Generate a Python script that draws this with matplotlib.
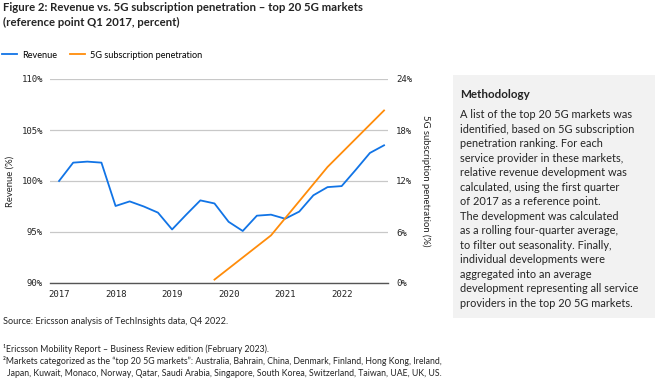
import matplotlib.pyplot as plt
import numpy as np

# quarterly revenue index (Q1 2017 = 100)
quarters = np.arange(2017, 2023, 0.25)
revenue = [100.0, 101.8, 101.9, 101.8,
           97.55, 98.0, 97.5, 96.9,
           95.25, 96.7, 98.1, 97.8,
           96.0, 95.1, 96.6, 96.7,
           96.3, 97.0, 98.6, 99.4,
           99.5, 101.1, 102.75, 103.5]

# 5G subscription penetration, end of year points
pen_x = [2019.75, 2020.75, 2021.75, 2022.75]
penetration = [0.4, 5.6, 13.65, 20.3]

years = [2017, 2018, 2019, 2020, 2021, 2022]
rev_ticks = [90, 95, 100, 105, 110]
pen_ticks = [0, 6, 12, 18, 24]

BLUE = "#1174e6"
ORANGE = "#ff8c0a"
TXT = "#242424"
MONO = "DejaVu Sans Mono"
SANS = ["Lato", "DejaVu Sans"]

plt.rcParams["font.family"] = SANS

fig = plt.figure(figsize=(6.63, 3.9), dpi=100)
fig.patch.set_facecolor("white")

W, H = 663, 390
ax = fig.add_axes([50 / W, 1 - 283 / H, 338 / W, 204 / H])
ax2 = ax.twinx()

l1, = ax.plot(quarters, revenue, color=BLUE, lw=1.3, label="Revenue", zorder=3)
l2, = ax2.plot(pen_x, penetration, color=ORANGE, lw=1.3,
               label="5G subscription penetration", zorder=3)

ax.set_xlim(2016.84, 2022.82)
ax.set_ylim(90, 110)
ax2.set_ylim(0, 24)
ax.set_yticks(rev_ticks)
ax.set_yticklabels([f"{v}%" for v in rev_ticks], family=MONO, fontsize=6.5, color=TXT)
ax2.set_yticks(pen_ticks)
ax2.set_yticklabels([f"{v}%" for v in pen_ticks], family=MONO, fontsize=6.5, color=TXT)
ax.set_xticks(years)
ax.set_xticklabels([str(y) for y in years], family=MONO, fontsize=6.5, color=TXT)

for a in (ax, ax2):
    for s in ("left", "right", "top"):
        a.spines[s].set_visible(False)
    a.tick_params(length=0)
ax.spines["bottom"].set_color("#555555")
ax.spines["bottom"].set_linewidth(1.0)
ax2.spines["bottom"].set_visible(False)
ax.tick_params(axis="y", pad=5)
ax2.tick_params(axis="y", pad=6)
ax.tick_params(axis="x", pad=5)
ax.grid(axis="y", color="#c8c8c8", lw=0.9)
ax.set_axisbelow(True)
ax.patch.set_visible(False)

ax.set_ylabel("Revenue (%)", fontsize=6.8, color=TXT, labelpad=5)
ax2.set_ylabel("5G subscription penetration (%)", fontsize=6.8, color=TXT,
               rotation=270, labelpad=13)

fig.text(3 / W, 1 - 15 / H,
         "Figure 2: Revenue vs. 5G subscription penetration \u2013 top 20 5G markets\n"
         "(reference point Q1 2017, percent)",
         fontsize=8.2, fontweight="bold", color=TXT, va="center", ha="left",
         linespacing=1.45)

fig.legend(handles=[l1, l2], loc="center left", bbox_to_anchor=(0, 1 - 55 / H),
           ncol=2, frameon=False, fontsize=6.6, handlelength=1.7,
           columnspacing=1.4, handletextpad=0.5, borderaxespad=0, borderpad=0.2)

# methodology box
box = plt.Rectangle((453 / W, 1 - 318 / H), 202 / W, 243 / H,
                    transform=fig.transFigure, facecolor="#f2f2f2",
                    edgecolor="none", zorder=0)
fig.patches.append(box)
fig.text(460 / W, 1 - 95 / H, "Methodology", fontsize=8.4, fontweight="bold",
         color=TXT, va="center")
method = ("A list of the top 20 5G markets was\n"
          "identified, based on 5G subscription\n"
          "penetration ranking. For each\n"
          "service provider in these markets,\n"
          "relative revenue development was\n"
          "calculated, using the first quarter\n"
          "of 2017 as a reference point.\n"
          "The development was calculated\n"
          "as a rolling four-quarter average,\n"
          "to filter out seasonality. Finally,\n"
          "individual developments were\n"
          "aggregated into an average\n"
          "development representing all service\n"
          "providers in the top 20 5G markets.")
fig.text(460 / W, 1 - 109 / H, method, fontsize=7.9, color=TXT, va="top",
         linespacing=1.39)

fig.text(3 / W, 1 - 321 / H, "Source: Ericsson analysis of TechInsights data, Q4 2022.",
         fontsize=6.6, color=TXT, va="center")
fig.text(3 / W, 1 - 349 / H,
         "\u00b9Ericsson Mobility Report \u2013 Business Review edition (February 2023).",
         fontsize=6.3, color=TXT, va="center")
fig.text(3 / W, 1 - 361 / H,
         "\u00b2Markets categorized as the \u201ctop 20 5G markets\u201d: Australia, Bahrain, China, "
         "Denmark, Finland, Hong Kong, Ireland,",
         fontsize=6.3, color=TXT, va="center")
fig.text(7 / W, 1 - 373 / H,
         "Japan, Kuwait, Monaco, Norway, Qatar, Saudi Arabia, Singapore, South Korea, "
         "Switzerland, Taiwan, UAE, UK, US.",
         fontsize=6.3, color=TXT, va="center")

fig.savefig("out.png", dpi=100)
